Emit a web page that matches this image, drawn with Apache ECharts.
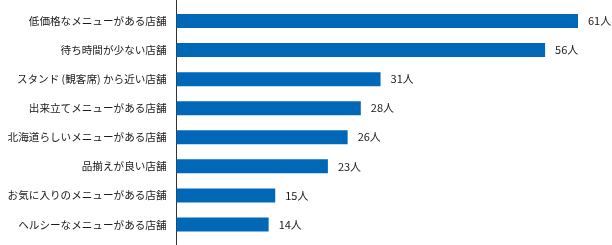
<!DOCTYPE html>
<html><head><meta charset="utf-8">
<script src="https://cdn.jsdelivr.net/npm/echarts@6/dist/echarts.min.js"></script>
<style>html,body{margin:0;padding:0;background:#fff}#c{width:612px;height:245px}</style>
</head><body><div id="c"></div>
<script>
const categories = ["低価格なメニューがある店舗","待ち時間が少ない店舗","スタンド (観客席) から近い店舗","出来立てメニューがある店舗","北海道らしいメニューがある店舗","品揃えが良い店舗","お気に入りのメニューがある店舗","ヘルシーなメニューがある店舗"];
const values = [61,56,31,28,26,23,15,14];
const unit = "人";
const xMax = 61;
const font = '"Noto Sans CJK JP", "Noto Sans", sans-serif';
const chart = echarts.init(document.getElementById('c'), null, {renderer:'canvas'});
chart.setOption({
  animation:false,
  grid:[{left:176.5, top:6.5, width:401.5, height:232.5, containLabel:false},
        {left:176.5, top:0, width:401.5, height:245}],
  xAxis:[{type:'value', min:0, max:xMax, show:false, gridIndex:0},
         {type:'value', min:0, max:1, show:false, gridIndex:1}],
  yAxis:[{type:'category', data:categories, inverse:true, gridIndex:0,
          axisLine:{show:false}, axisTick:{show:false},
          axisLabel:{margin:10, fontSize:10.6, color:'#1a1a1a', fontFamily:font}},
         {type:'category', data:[''], gridIndex:1,
          axisLine:{show:true, lineStyle:{color:'#333', width:1}}, axisTick:{show:false}, axisLabel:{show:false}}],
  series:[{type:'bar', data:values, xAxisIndex:0, yAxisIndex:0, barWidth:14,
           itemStyle:{color:'#0068b7'},
           label:{show:true, position:'right', distance:10, fontSize:11, color:'#1a1a1a', fontFamily:font,
                  formatter:p=>p.value+unit}}]
});
</script></body></html>
